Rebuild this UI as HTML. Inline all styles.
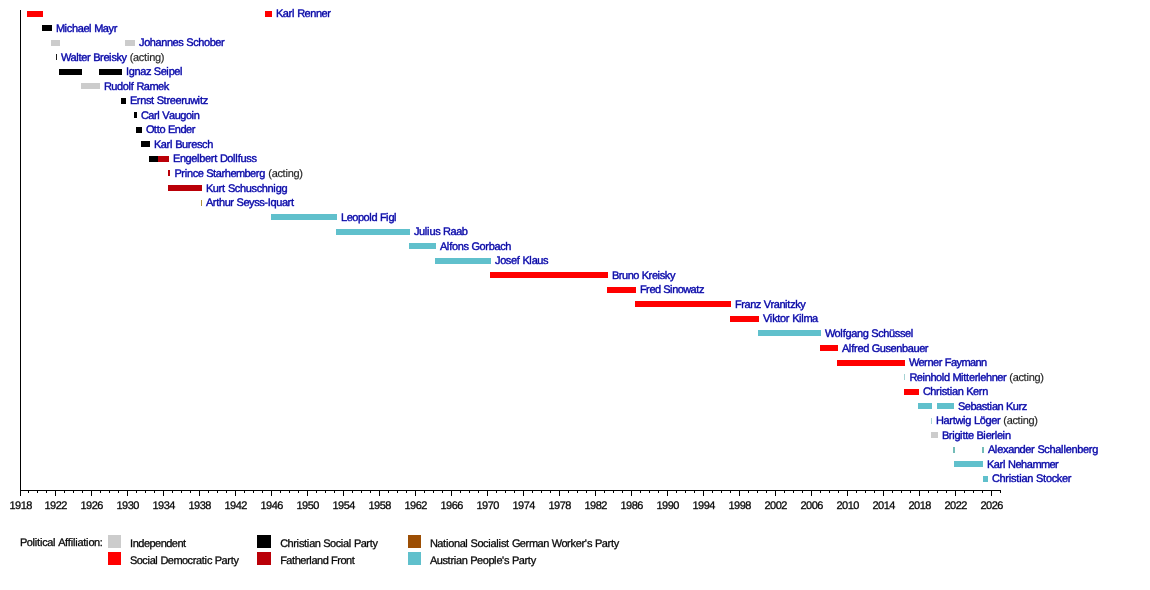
<!DOCTYPE html>
<html lang="en"><head><meta charset="utf-8"><title>Chancellors of Austria timeline</title>
<style>
html,body{margin:0;padding:0;background:#fff}
body{width:1150px;height:590px;overflow:hidden}
svg{display:block}
text{font-family:"Liberation Sans",Arial,Helvetica,sans-serif;font-size:11px;white-space:pre;font-variant-ligatures:none;font-kerning:none;text-rendering:geometricPrecision}
.lk{fill:#0a0a9a;stroke:#2626d6;stroke-width:.45px;paint-order:stroke}
.bk{fill:#000;stroke:#161616;stroke-width:.3px}
.ac{fill:#1c1c1c;stroke:#444;stroke-width:.2px}
</style></head><body>
<svg width="1150" height="590" viewBox="0 0 1150 590">
<rect width="1150" height="590" fill="#ffffff"/>

<rect x="27" y="11" width="16" height="6" fill="#ff0000"/>
<rect x="265" y="11" width="7" height="6" fill="#ff0000"/>
<text class="lk" x="276" y="17" dx="0 -0.54 -0.43 -0.22 -0.12 -0.17 -0.59 -0.43 -0.43 -0.43 -0.43">Karl Renner</text>
<rect x="42" y="25" width="10" height="6" fill="#000000"/>
<text class="lk" x="56" y="32" dx="0 -0.68 -0.11 -0.37 -0.42 -0.42 -0.42 -0.11 -0.16 -0.68 -0.42 -0.37">Michael Mayr</text>
<rect x="51" y="40" width="9" height="6" fill="#cccccc"/>
<rect x="125" y="40" width="10" height="6" fill="#cccccc"/>
<text class="lk" x="139" y="46" dx="0 -0.37 -0.43 -0.43 -0.43 -0.43 -0.43 -0.43 -0.37 -0.17 -0.53 -0.37 -0.43 -0.43 -0.43 -0.43">Johannes Schober</text>
<rect x="56" y="54" width="1" height="6" fill="#1a1a1a"/>
<text class="lk" x="61" y="61" dx="0 -0.84 -0.47 -0.16 -0.21 -0.47 -0.26 -0.21 -0.58 -0.26 -0.47 -0.16 -0.42 -0.42">Walter Breisky</text>
<text class="ac" x="129.65" y="61" dx="0 -0.2 -0.41 -0.36 -0.15 -0.1 -0.41 -0.41">(acting)</text>
<rect x="59" y="69" width="23" height="6" fill="#000000"/>
<rect x="99" y="69" width="23" height="6" fill="#000000"/>
<text class="lk" x="126" y="75" dx="0 -0.19 -0.45 -0.45 -0.45 -0.4 -0.19 -0.56 -0.45 -0.14 -0.45 -0.45">Ignaz Seipel</text>
<rect x="81" y="83" width="19" height="6" fill="#cccccc"/>
<text class="lk" x="104" y="90" dx="0 -0.6 -0.44 -0.44 -0.44 -0.13 -0.18 -0.18 -0.6 -0.44 -0.7 -0.44">Rudolf Ramek</text>
<rect x="121" y="98" width="5" height="6" fill="#000000"/>
<text class="lk" x="130" y="104" dx="0 -0.56 -0.24 -0.45 -0.4 -0.19 -0.19 -0.56 -0.19 -0.24 -0.45 -0.45 -0.24 -0.45 -0.61 -0.14 -0.19">Ernst Streeruwitz</text>
<rect x="134" y="112" width="3" height="6" fill="#000000"/>
<text class="lk" x="141" y="119" dx="0 -0.67 -0.51 -0.3 -0.2 -0.25 -0.61 -0.51 -0.51 -0.51 -0.51 -0.2">Carl Vaugoin</text>
<rect x="136" y="127" width="6" height="6" fill="#000000"/>
<text class="lk" x="146" y="133" dx="0 -0.69 -0.22 -0.22 -0.48 -0.22 -0.58 -0.48 -0.48 -0.48">Otto Ender</text>
<rect x="141" y="141" width="9" height="6" fill="#000000"/>
<text class="lk" x="154" y="148" dx="0 -0.53 -0.42 -0.22 -0.11 -0.16 -0.53 -0.42 -0.22 -0.42 -0.37 -0.37">Karl Buresch</text>
<rect x="149" y="156" width="10" height="6" fill="#000000"/>
<rect x="158" y="156" width="11" height="6" fill="#ba0008"/>
<text class="lk" x="173.1" y="162" dx="0 -0.54 -0.43 -0.43 -0.43 -0.12 -0.43 -0.43 -0.22 -0.17 -0.17 -0.59 -0.43 -0.12 -0.12 -0.17 -0.43 -0.38">Engelbert Dollfuss</text>
<rect x="168" y="170" width="2" height="6" fill="#ba0008"/>
<text class="lk" x="174.6" y="177" dx="0 -0.59 -0.28 -0.18 -0.49 -0.44 -0.49 -0.23 -0.59 -0.23 -0.49 -0.28 -0.49 -0.49 -0.75 -0.49 -0.49 -0.28">Prince Starhemberg</text>
<text class="ac" x="268.25" y="177" dx="0 -0.2 -0.41 -0.36 -0.15 -0.1 -0.41 -0.41">(acting)</text>
<rect x="168" y="185" width="34" height="6" fill="#ba0008"/>
<text class="lk" x="206" y="192" dx="0 -0.48 -0.38 -0.17 -0.12 -0.12 -0.48 -0.33 -0.38 -0.38 -0.33 -0.33 -0.38 -0.38 -0.07 -0.38">Kurt Schuschnigg</text>
<rect x="201" y="200" width="1" height="6" fill="#b0923c"/>
<text class="lk" x="206" y="206" dx="0 -0.57 -0.26 -0.21 -0.47 -0.47 -0.26 -0.21 -0.57 -0.47 -0.41 -0.41 -0.41 -0.26 -0.21 -0.47 -0.47 -0.47 -0.26">Arthur Seyss-Iquart</text>
<rect x="271" y="214" width="66" height="6" fill="#60c0cc"/>
<text class="lk" x="341" y="221" dx="0 -0.49 -0.49 -0.49 -0.49 -0.49 -0.18 -0.49 -0.23 -0.54 -0.18 -0.49">Leopold Figl</text>
<rect x="336" y="229" width="74" height="6" fill="#60c0cc"/>
<text class="lk" x="414" y="235" dx="0 -0.39 -0.44 -0.13 -0.13 -0.44 -0.39 -0.18 -0.6 -0.44 -0.44">Julius Raab</text>
<rect x="409" y="243" width="27" height="6" fill="#60c0cc"/>
<text class="lk" x="440" y="250" dx="0 -0.52 -0.1 -0.15 -0.41 -0.41 -0.36 -0.15 -0.62 -0.41 -0.2 -0.41 -0.41 -0.36">Alfons Gorbach</text>
<rect x="435" y="258" width="56" height="6" fill="#60c0cc"/>
<text class="lk" x="495" y="264" dx="0 -0.37 -0.42 -0.37 -0.42 -0.16 -0.16 -0.53 -0.11 -0.42 -0.42">Josef Klaus</text>
<rect x="490" y="272" width="118" height="6" fill="#ff0000"/>
<text class="lk" x="612" y="279" dx="0 -0.61 -0.29 -0.5 -0.5 -0.5 -0.24 -0.61 -0.29 -0.5 -0.19 -0.45 -0.45">Bruno Kreisky</text>
<rect x="607" y="287" width="29" height="6" fill="#ff0000"/>
<text class="lk" x="640" y="293" dx="0 -0.61 -0.35 -0.56 -0.56 -0.3 -0.66 -0.24 -0.56 -0.56 -0.71 -0.56 -0.3">Fred Sinowatz</text>
<rect x="635" y="301" width="96" height="6" fill="#ff0000"/>
<text class="lk" x="735" y="308" dx="0 -0.55 -0.29 -0.5 -0.5 -0.45 -0.24 -0.6 -0.29 -0.5 -0.5 -0.18 -0.24 -0.45 -0.45">Franz Vranitzky</text>
<rect x="730" y="316" width="29" height="6" fill="#ff0000"/>
<text class="lk" x="763" y="322" dx="0 -0.54 -0.13 -0.39 -0.18 -0.44 -0.23 -0.18 -0.54 -0.13 -0.13 -0.7">Viktor Kilma</text>
<rect x="758" y="330" width="63" height="6" fill="#60c0cc"/>
<text class="lk" x="825" y="337" dx="0 -0.78 -0.41 -0.1 -0.15 -0.41 -0.41 -0.41 -0.41 -0.15 -0.52 -0.36 -0.41 -0.41 -0.36 -0.36 -0.41">Wolfgang Schüssel</text>
<rect x="820" y="345" width="18" height="6" fill="#ff0000"/>
<text class="lk" x="842" y="352" dx="0 -0.53 -0.11 -0.16 -0.21 -0.42 -0.42 -0.16 -0.63 -0.42 -0.37 -0.42 -0.42 -0.42 -0.42 -0.42 -0.42">Alfred Gusenbauer</text>
<rect x="837" y="360" width="68" height="6" fill="#ff0000"/>
<text class="lk" x="909" y="366" dx="0 -0.89 -0.53 -0.32 -0.53 -0.53 -0.32 -0.27 -0.58 -0.53 -0.48 -0.79 -0.53 -0.53">Werner Faymann</text>
<rect x="904" y="374" width="1" height="6" fill="#a4d2d3"/>
<text class="lk" x="909.5" y="381" dx="0 -0.63 -0.47 -0.16 -0.47 -0.47 -0.47 -0.16 -0.47 -0.21 -0.73 -0.16 -0.21 -0.21 -0.47 -0.26 -0.16 -0.47 -0.47 -0.47 -0.47">Reinhold Mitterlehner</text>
<text class="ac" x="1009.25" y="381" dx="0 -0.2 -0.41 -0.36 -0.15 -0.1 -0.41 -0.41">(acting)</text>
<rect x="904" y="389" width="15" height="6" fill="#ff0000"/>
<text class="lk" x="923" y="395" dx="0 -0.61 -0.45 -0.24 -0.14 -0.4 -0.19 -0.14 -0.45 -0.45 -0.19 -0.56 -0.45 -0.24">Christian Kern</text>
<rect x="918" y="403" width="14" height="6" fill="#60c0cc"/>
<rect x="937" y="403" width="17" height="6" fill="#60c0cc"/>
<text class="lk" x="958" y="410" dx="0 -0.58 -0.48 -0.48 -0.48 -0.43 -0.22 -0.17 -0.48 -0.48 -0.22 -0.58 -0.48 -0.27">Sebastian Kurz</text>
<rect x="931" y="418" width="1" height="6" fill="#a4d2d3"/>
<text class="lk" x="936" y="424" dx="0 -0.55 -0.39 -0.18 -0.13 -0.55 -0.08 -0.39 -0.13 -0.39 -0.39 -0.39 -0.39">Hartwig Löger</text>
<text class="ac" x="1003.25" y="424" dx="0 -0.2 -0.41 -0.36 -0.15 -0.1 -0.41 -0.41">(acting)</text>
<rect x="931" y="432" width="7" height="6" fill="#cccccc"/>
<text class="lk" x="942" y="439" dx="0 -0.58 -0.27 -0.16 -0.48 -0.16 -0.22 -0.22 -0.48 -0.22 -0.58 -0.16 -0.48 -0.27 -0.16 -0.48 -0.16">Brigitte Bierlein</text>
<rect x="953" y="447" width="2" height="6" fill="#74bcb8"/>
<rect x="982" y="447" width="2" height="6" fill="#74bcb8"/>
<text class="lk" x="988" y="453" dx="0 -0.49 -0.07 -0.39 -0.33 -0.39 -0.39 -0.39 -0.39 -0.18 -0.12 -0.49 -0.33 -0.39 -0.39 -0.07 -0.07 -0.39 -0.39 -0.39 -0.39 -0.18">Alexander Schallenberg</text>
<rect x="954" y="461" width="29" height="6" fill="#60c0cc"/>
<text class="lk" x="987" y="468" dx="0 -0.55 -0.45 -0.24 -0.13 -0.19 -0.6 -0.45 -0.45 -0.45 -0.71 -0.71 -0.45">Karl Nehammer</text>
<rect x="983" y="476" width="5" height="6" fill="#60c0cc"/>
<text class="lk" x="992" y="482" dx="0 -0.53 -0.37 -0.17 -0.06 -0.32 -0.11 -0.06 -0.37 -0.37 -0.11 -0.48 -0.11 -0.37 -0.32 -0.32 -0.37">Christian Stocker</text>
<g fill="#000">
<rect x="20" y="10" width="1" height="481"/>
<rect x="20" y="490" width="981" height="1"/>
<rect x="20" y="490" width="1" height="6"/>
<rect x="28" y="490" width="1" height="3"/>
<rect x="37" y="490" width="1" height="3"/>
<rect x="46" y="490" width="1" height="3"/>
<rect x="55" y="490" width="1" height="6"/>
<rect x="64" y="490" width="1" height="3"/>
<rect x="73" y="490" width="1" height="3"/>
<rect x="82" y="490" width="1" height="3"/>
<rect x="91" y="490" width="1" height="6"/>
<rect x="100" y="490" width="1" height="3"/>
<rect x="109" y="490" width="1" height="3"/>
<rect x="118" y="490" width="1" height="3"/>
<rect x="127" y="490" width="1" height="6"/>
<rect x="136" y="490" width="1" height="3"/>
<rect x="145" y="490" width="1" height="3"/>
<rect x="154" y="490" width="1" height="3"/>
<rect x="163" y="490" width="1" height="6"/>
<rect x="172" y="490" width="1" height="3"/>
<rect x="181" y="490" width="1" height="3"/>
<rect x="190" y="490" width="1" height="3"/>
<rect x="199" y="490" width="1" height="6"/>
<rect x="208" y="490" width="1" height="3"/>
<rect x="217" y="490" width="1" height="3"/>
<rect x="226" y="490" width="1" height="3"/>
<rect x="235" y="490" width="1" height="6"/>
<rect x="244" y="490" width="1" height="3"/>
<rect x="253" y="490" width="1" height="3"/>
<rect x="262" y="490" width="1" height="3"/>
<rect x="271" y="490" width="1" height="6"/>
<rect x="280" y="490" width="1" height="3"/>
<rect x="289" y="490" width="1" height="3"/>
<rect x="298" y="490" width="1" height="3"/>
<rect x="307" y="490" width="1" height="6"/>
<rect x="316" y="490" width="1" height="3"/>
<rect x="325" y="490" width="1" height="3"/>
<rect x="334" y="490" width="1" height="3"/>
<rect x="343" y="490" width="1" height="6"/>
<rect x="352" y="490" width="1" height="3"/>
<rect x="361" y="490" width="1" height="3"/>
<rect x="370" y="490" width="1" height="3"/>
<rect x="379" y="490" width="1" height="6"/>
<rect x="388" y="490" width="1" height="3"/>
<rect x="397" y="490" width="1" height="3"/>
<rect x="406" y="490" width="1" height="3"/>
<rect x="415" y="490" width="1" height="6"/>
<rect x="424" y="490" width="1" height="3"/>
<rect x="433" y="490" width="1" height="3"/>
<rect x="442" y="490" width="1" height="3"/>
<rect x="451" y="490" width="1" height="6"/>
<rect x="460" y="490" width="1" height="3"/>
<rect x="469" y="490" width="1" height="3"/>
<rect x="478" y="490" width="1" height="3"/>
<rect x="487" y="490" width="1" height="6"/>
<rect x="496" y="490" width="1" height="3"/>
<rect x="505" y="490" width="1" height="3"/>
<rect x="514" y="490" width="1" height="3"/>
<rect x="523" y="490" width="1" height="6"/>
<rect x="532" y="490" width="1" height="3"/>
<rect x="541" y="490" width="1" height="3"/>
<rect x="550" y="490" width="1" height="3"/>
<rect x="559" y="490" width="1" height="6"/>
<rect x="568" y="490" width="1" height="3"/>
<rect x="577" y="490" width="1" height="3"/>
<rect x="586" y="490" width="1" height="3"/>
<rect x="595" y="490" width="1" height="6"/>
<rect x="604" y="490" width="1" height="3"/>
<rect x="613" y="490" width="1" height="3"/>
<rect x="622" y="490" width="1" height="3"/>
<rect x="631" y="490" width="1" height="6"/>
<rect x="640" y="490" width="1" height="3"/>
<rect x="649" y="490" width="1" height="3"/>
<rect x="658" y="490" width="1" height="3"/>
<rect x="667" y="490" width="1" height="6"/>
<rect x="676" y="490" width="1" height="3"/>
<rect x="685" y="490" width="1" height="3"/>
<rect x="694" y="490" width="1" height="3"/>
<rect x="703" y="490" width="1" height="6"/>
<rect x="712" y="490" width="1" height="3"/>
<rect x="721" y="490" width="1" height="3"/>
<rect x="730" y="490" width="1" height="3"/>
<rect x="739" y="490" width="1" height="6"/>
<rect x="748" y="490" width="1" height="3"/>
<rect x="757" y="490" width="1" height="3"/>
<rect x="766" y="490" width="1" height="3"/>
<rect x="775" y="490" width="1" height="6"/>
<rect x="784" y="490" width="1" height="3"/>
<rect x="793" y="490" width="1" height="3"/>
<rect x="802" y="490" width="1" height="3"/>
<rect x="811" y="490" width="1" height="6"/>
<rect x="820" y="490" width="1" height="3"/>
<rect x="829" y="490" width="1" height="3"/>
<rect x="838" y="490" width="1" height="3"/>
<rect x="847" y="490" width="1" height="6"/>
<rect x="856" y="490" width="1" height="3"/>
<rect x="865" y="490" width="1" height="3"/>
<rect x="874" y="490" width="1" height="3"/>
<rect x="883" y="490" width="1" height="6"/>
<rect x="892" y="490" width="1" height="3"/>
<rect x="901" y="490" width="1" height="3"/>
<rect x="910" y="490" width="1" height="3"/>
<rect x="919" y="490" width="1" height="6"/>
<rect x="928" y="490" width="1" height="3"/>
<rect x="937" y="490" width="1" height="3"/>
<rect x="946" y="490" width="1" height="3"/>
<rect x="955" y="490" width="1" height="6"/>
<rect x="964" y="490" width="1" height="3"/>
<rect x="973" y="490" width="1" height="3"/>
<rect x="982" y="490" width="1" height="3"/>
<rect x="991" y="490" width="1" height="6"/>
<rect x="1000" y="490" width="1" height="3"/>
</g>
<text class="bk" x="9.4" y="508.8" dx="0 -0.51 -0.51 -0.51">1918</text>
<text class="bk" x="44.4" y="508.8" dx="0 -0.51 -0.51 -0.51">1922</text>
<text class="bk" x="80.4" y="508.8" dx="0 -0.51 -0.51 -0.51">1926</text>
<text class="bk" x="116.4" y="508.8" dx="0 -0.51 -0.51 -0.51">1930</text>
<text class="bk" x="152.4" y="508.8" dx="0 -0.51 -0.51 -0.51">1934</text>
<text class="bk" x="188.4" y="508.8" dx="0 -0.51 -0.51 -0.51">1938</text>
<text class="bk" x="224.4" y="508.8" dx="0 -0.51 -0.51 -0.51">1942</text>
<text class="bk" x="260.4" y="508.8" dx="0 -0.51 -0.51 -0.51">1946</text>
<text class="bk" x="296.4" y="508.8" dx="0 -0.51 -0.51 -0.51">1950</text>
<text class="bk" x="332.4" y="508.8" dx="0 -0.51 -0.51 -0.51">1954</text>
<text class="bk" x="368.4" y="508.8" dx="0 -0.51 -0.51 -0.51">1958</text>
<text class="bk" x="404.4" y="508.8" dx="0 -0.51 -0.51 -0.51">1962</text>
<text class="bk" x="440.4" y="508.8" dx="0 -0.51 -0.51 -0.51">1966</text>
<text class="bk" x="476.4" y="508.8" dx="0 -0.51 -0.51 -0.51">1970</text>
<text class="bk" x="512.4" y="508.8" dx="0 -0.51 -0.51 -0.51">1974</text>
<text class="bk" x="548.4" y="508.8" dx="0 -0.51 -0.51 -0.51">1978</text>
<text class="bk" x="584.4" y="508.8" dx="0 -0.51 -0.51 -0.51">1982</text>
<text class="bk" x="620.4" y="508.8" dx="0 -0.51 -0.51 -0.51">1986</text>
<text class="bk" x="656.4" y="508.8" dx="0 -0.51 -0.51 -0.51">1990</text>
<text class="bk" x="692.4" y="508.8" dx="0 -0.51 -0.51 -0.51">1994</text>
<text class="bk" x="728.4" y="508.8" dx="0 -0.51 -0.51 -0.51">1998</text>
<text class="bk" x="764.4" y="508.8" dx="0 -0.51 -0.51 -0.51">2002</text>
<text class="bk" x="800.4" y="508.8" dx="0 -0.51 -0.51 -0.51">2006</text>
<text class="bk" x="836.4" y="508.8" dx="0 -0.51 -0.51 -0.51">2010</text>
<text class="bk" x="872.4" y="508.8" dx="0 -0.51 -0.51 -0.51">2014</text>
<text class="bk" x="908.4" y="508.8" dx="0 -0.51 -0.51 -0.51">2018</text>
<text class="bk" x="944.4" y="508.8" dx="0 -0.51 -0.51 -0.51">2022</text>
<text class="bk" x="980.4" y="508.8" dx="0 -0.51 -0.51 -0.51">2026</text>
<text class="bk" x="20" y="545.8" dx="0 -0.56 -0.46 -0.15 -0.15 -0.2 -0.15 -0.41 -0.46 -0.15 -0.2 -0.56 -0.2 -0.2 -0.15 -0.15 -0.15 -0.46 -0.2 -0.15 -0.46 -0.46">Political Affiliation:</text>
<rect x="108" y="535" width="13" height="13" fill="#cccccc"/>
<text class="bk" x="130" y="547" dx="0 -0.28 -0.55 -0.55 -0.55 -0.55 -0.55 -0.55 -0.55 -0.55 -0.55">Independent</text>
<rect x="108" y="552" width="13" height="13" fill="#ff0000"/>
<text class="bk" x="129.9" y="564" dx="0 -0.57 -0.47 -0.42 -0.15 -0.47 -0.15 -0.21 -0.62 -0.47 -0.73 -0.47 -0.42 -0.26 -0.47 -0.21 -0.15 -0.42 -0.21 -0.57 -0.47 -0.26 -0.21">Social Democratic Party</text>
<rect x="257" y="535" width="14" height="13" fill="#000000"/>
<text class="bk" x="280.2" y="547" dx="0 -0.62 -0.47 -0.26 -0.15 -0.42 -0.21 -0.15 -0.47 -0.47 -0.21 -0.57 -0.47 -0.42 -0.15 -0.47 -0.15 -0.21 -0.57 -0.47 -0.26 -0.21">Christian Social Party</text>
<rect x="257" y="552" width="14" height="13" fill="#ba0008"/>
<text class="bk" x="280.2" y="564" dx="0 -0.59 -0.54 -0.28 -0.54 -0.54 -0.33 -0.22 -0.54 -0.54 -0.54 -0.28 -0.59 -0.33 -0.54 -0.54">Fatherland Front</text>
<rect x="408" y="535" width="13" height="13" fill="#9c4e04"/>
<text class="bk" x="429.9" y="547" dx="0 -0.58 -0.42 -0.16 -0.11 -0.42 -0.42 -0.42 -0.11 -0.16 -0.53 -0.42 -0.37 -0.11 -0.42 -0.11 -0.11 -0.37 -0.16 -0.16 -0.63 -0.42 -0.21 -0.68 -0.42 -0.42 -0.16 -0.79 -0.42 -0.21 -0.37 -0.42 -0.21 -0.08 -0.37 -0.16 -0.53 -0.42 -0.21 -0.16">National Socialist German Worker's Party</text>
<rect x="408" y="552" width="13" height="13" fill="#60c0cc"/>
<text class="bk" x="430" y="564" dx="0 -0.57 -0.46 -0.41 -0.2 -0.25 -0.15 -0.46 -0.46 -0.2 -0.57 -0.46 -0.46 -0.46 -0.15 -0.46 -0.12 -0.41 -0.2 -0.57 -0.46 -0.25 -0.2">Austrian People's Party</text>
</svg>
</body></html>
